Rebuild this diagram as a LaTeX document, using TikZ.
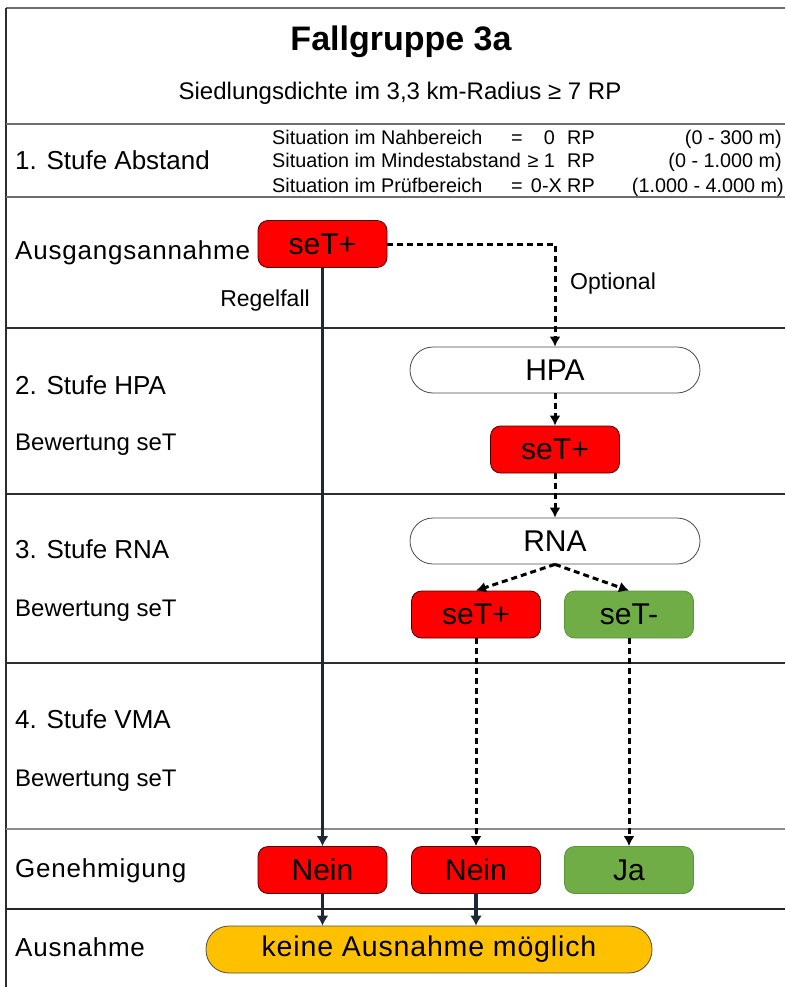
\documentclass[tikz,border=0pt]{standalone}
\usepackage{fontspec}
\setmainfont{Liberation Sans}
\newfontfamily\spc[LetterSpace=3]{Liberation Sans}
\usetikzlibrary{arrows.meta,positioning}
\definecolor{myred}{HTML}{FF0000}
\definecolor{mygreen}{HTML}{70AD47}
\definecolor{myorange}{HTML}{FFC000}
\definecolor{navy}{HTML}{1B2838}
\definecolor{gline}{HTML}{6E6E6E}
\definecolor{dline}{HTML}{2E2E2E}
\tikzset{
  x=1pt, y=-1pt,
  lbl/.style={anchor=mid west, inner sep=0pt, font=\fontsize{26}{30}\selectfont},
  sublbl/.style={anchor=mid west, inner sep=0pt, font=\fontsize{24}{28}\selectfont},
  sit/.style={inner sep=0pt, font=\fontsize{19.8}{24}\selectfont},
  rbox/.style={draw=black!70!red, line width=0.8pt, rounded corners=10pt, minimum width=129pt, minimum height=47pt, inner sep=0pt, font=\fontsize{30}{34}\selectfont},
  redbox/.style={rbox, fill=myred},
  greenbox/.style={rbox, fill=mygreen, draw=mygreen!85!black},
  pill/.style={draw=black!70, line width=0.8pt, fill=white, rounded corners=23pt, minimum width=290pt, minimum height=46pt, inner sep=0pt, font=\fontsize{30}{34}\selectfont},
  dashline/.style={line width=3pt, dash pattern=on 6pt off 4pt, -{Latex[length=10pt,width=11pt]}},
  solidline/.style={line width=3.5pt, navy, -{Latex[length=10pt,width=12pt]}},
  frame/.style={line width=2pt},
}
\begin{document}
\begin{tikzpicture}
\useasboundingbox (0,0) rectangle (785,987);
% frame
\draw[frame, gline] (6,8) -- (785,8);
\draw[frame, dline] (6,8) -- (6,987);
\draw[frame, gline] (6,124) -- (785,124);
\draw[frame, gline] (6,197) -- (785,197);
\draw[frame, dline] (6,328) -- (785,328);
\draw[frame, dline] (6,494) -- (785,494);
\draw[frame, dline] (6,663) -- (785,663);
\draw[frame, gline!80] (6,829) -- (785,829);
\draw[frame, black!85] (6,909) -- (785,909);

% header
\node[inner sep=0pt, font=\fontsize{34}{38}\selectfont\bfseries] (title) at (401,42) {Fallgruppe 3a};
\node[inner sep=0pt, anchor=mid, font=\fontsize{24}{28}\selectfont] (sub) at (400,97) {Siedlungsdichte im 3,3 km-Radius ≥ 7 RP};

% stage 1
\node[lbl] (l1) at (15,167) {1. Stufe Abstand};
\node[sit, anchor=mid west] (s1a) at (272,142) {Situation im Nahbereich};
\node[sit, anchor=mid west] (s2a) at (272,165) {Situation im Mindestabstand};
\node[sit, anchor=mid west] (s3a) at (272,190) {Situation im Prüfbereich};
\node[sit, anchor=mid] (s1b) at (517,142) {=};
\node[sit, anchor=mid] (s2b) at (533,165) {≥};
\node[sit, anchor=mid] (s3b) at (517,190) {=};
\node[sit, anchor=mid east] (s1c) at (555,142) {0};
\node[sit, anchor=mid east] (s2c) at (555,165) {1};
\node[sit, anchor=mid east] (s3c) at (562,190) {0-X};
\node[sit, anchor=mid west] (s1d) at (567,142) {RP};
\node[sit, anchor=mid west] (s2d) at (567,165) {RP};
\node[sit, anchor=mid west] (s3d) at (567,190) {RP};
\node[sit, anchor=mid east] (s1e) at (782,142) {(0 - 300 m)};
\node[sit, anchor=mid east] (s2e) at (782,165) {(0 - 1.000 m)};
\node[sit, anchor=mid east] (s3e) at (784,190) {(1.000 - 4.000 m)};

% row labels
\node[lbl] (l2) at (15,257) {\spc Ausgangsannahme};
\node[lbl] (l3) at (15,392) {2. Stufe HPA};
\node[sublbl] (l3b) at (15,448) {Bewertung seT};
\node[lbl] (l4) at (15,556) {3. Stufe RNA};
\node[sublbl] (l4b) at (15,614) {Bewertung seT};
\node[lbl] (l5) at (15,726) {4. Stufe VMA};
\node[sublbl] (l5b) at (15,784) {Bewertung seT};
\node[lbl] (l6) at (15,875) {\spc Genehmigung};
\node[lbl] (l7) at (15,954) {\spc Ausnahme};

% nodes
\node[redbox] (a0) at (322.5,244) {seT+};
\node[pill] (hpa) at (555,370) {HPA};
\node[redbox] (h1) at (555,449.5) {seT+};
\node[pill] (rna) at (555,541) {RNA};
\node[redbox] (r1) at (476,614.5) {seT+};
\node[greenbox] (r2) at (629,614.5) {seT-};
\node[redbox] (n1) at (322.5,870) {Nein};
\node[redbox] (n2) at (476,870) {Nein};
\node[greenbox] (j1) at (629,870) {Ja};
\node[draw=black!70, line width=0.8pt, fill=myorange, rounded corners=23pt, minimum width=446pt, minimum height=47pt, inner sep=0pt, font=\fontsize{28.5}{32}\selectfont] (ka) at (429,949.5) {\spc keine Ausnahme möglich};

\node[inner sep=0pt, anchor=mid, font=\fontsize{23}{26}\selectfont] (regel) at (265,304) {Regelfall};
\node[inner sep=0pt, font=\fontsize{23}{26}\selectfont, anchor=mid west] (opt) at (570,287) {Optional};

% connectors
\draw[solidline] (a0.south) -- (n1.north);
\draw[dashline] (a0.east) -| (hpa.north);
\draw[dashline] (hpa.south) -- (h1.north);
\draw[dashline] (h1.south) -- (rna.north);
\draw[dashline] (rna.south) -- (r1.north);
\draw[dashline] (rna.south) -- (r2.north);
\draw[dashline] (r1.south) -- (n2.north);
\draw[dashline] (r2.south) -- (j1.north);
\draw[solidline] (n1.south) -- (n1.south |- ka.north);
\draw[solidline] (n2.south) -- (n2.south |- ka.north);
\end{tikzpicture}
\end{document}
